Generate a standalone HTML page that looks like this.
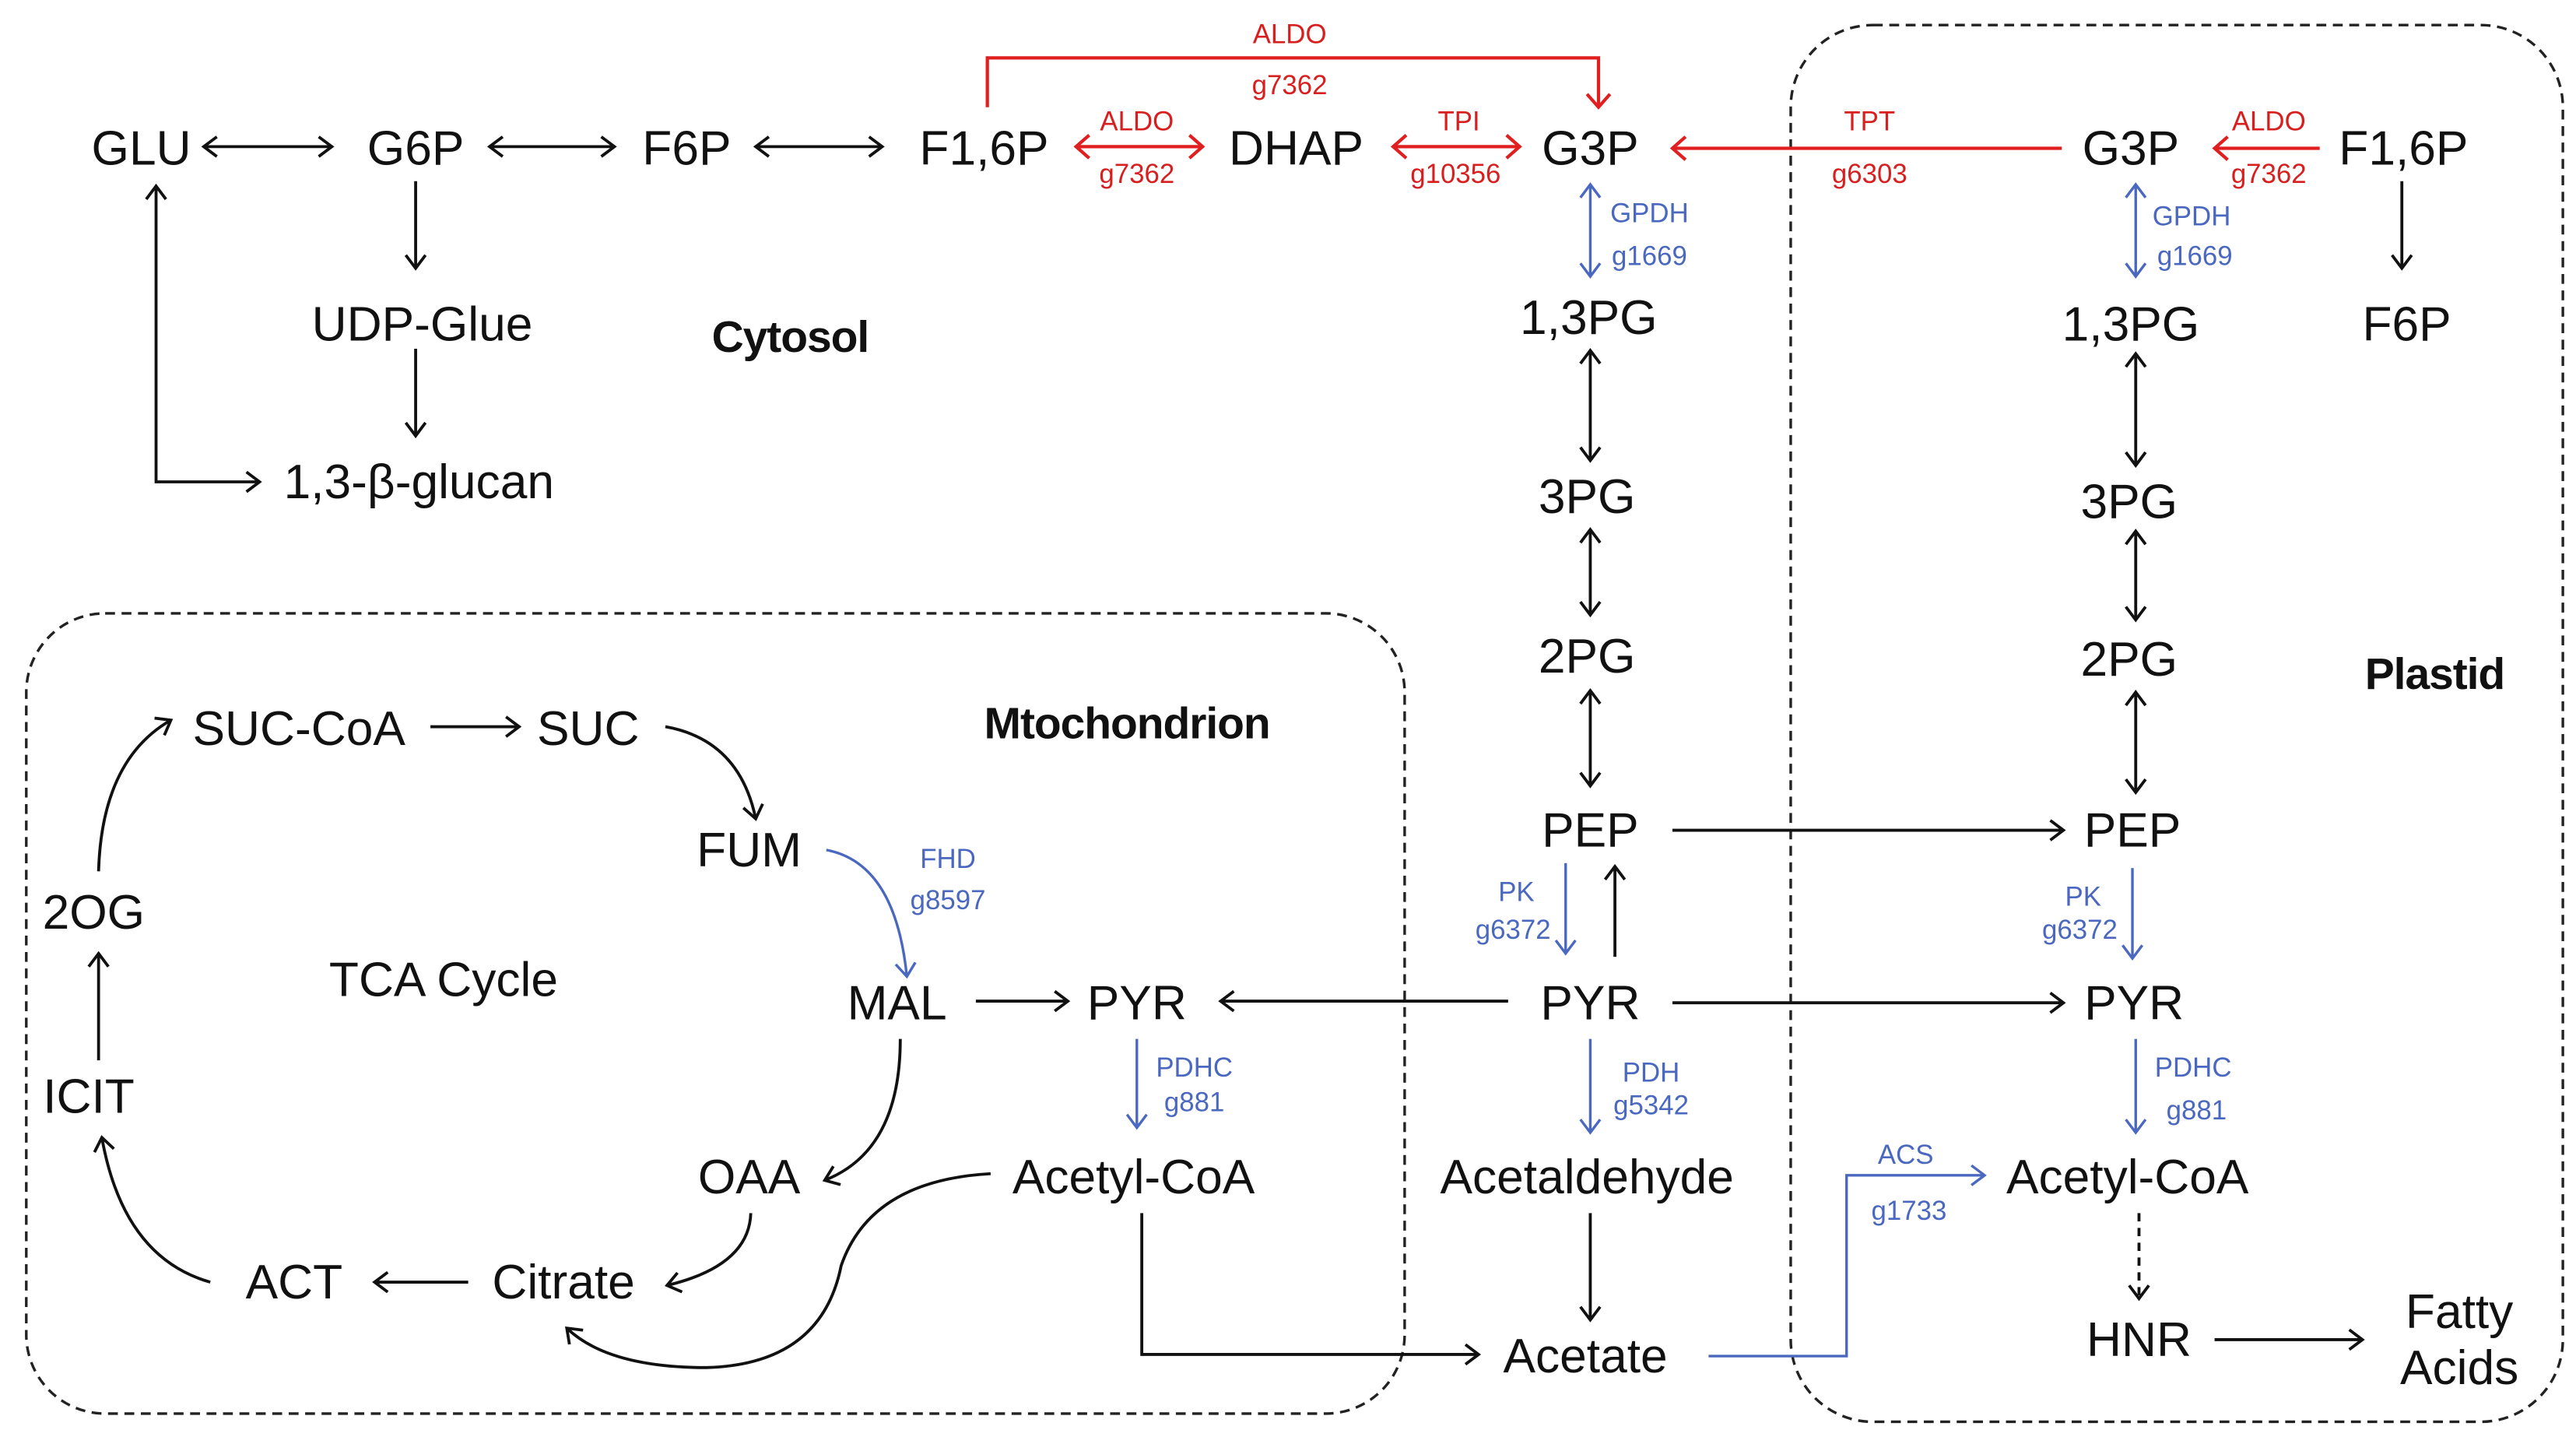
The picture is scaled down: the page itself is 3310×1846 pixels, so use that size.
<!DOCTYPE html>
<html><head><meta charset="utf-8"><style>
html,body{margin:0;padding:0;background:#fff;}
svg{display:block;}
text{font-family:"Liberation Sans",Arial,sans-serif;}
.m{font-size:29.5px;fill:#111;text-anchor:middle;}
.b{font-size:27px;font-weight:bold;fill:#111;text-anchor:middle;letter-spacing:-0.5px;}
.r{font-size:16.5px;fill:#d81f1f;text-anchor:middle;}
.u{font-size:16.5px;fill:#4a68c0;text-anchor:middle;}
.k{stroke:#111;stroke-width:1.8;fill:none;}
.rl{stroke:#e02020;stroke-width:2;fill:none;}
.bl{stroke:#4a68c0;stroke-width:1.6;fill:none;}
</style></head><body>
<svg width="3310" height="1846" viewBox="0 0 1568 874" xmlns="http://www.w3.org/2000/svg">
<defs>
<marker id="ak" markerWidth="14" markerHeight="14" refX="11" refY="7" orient="auto-start-reverse" markerUnits="userSpaceOnUse"><path d="M3,1 L11,7 L3,13" fill="none" stroke="#111" stroke-width="1.8"/></marker>
<marker id="ar" markerWidth="14" markerHeight="16" refX="11" refY="8" orient="auto-start-reverse" markerUnits="userSpaceOnUse"><path d="M3,1 L11,8 L3,15" fill="none" stroke="#e02020" stroke-width="2"/></marker>
<marker id="ab" markerWidth="14" markerHeight="14" refX="11" refY="7" orient="auto-start-reverse" markerUnits="userSpaceOnUse"><path d="M3,1 L11,7 L3,13" fill="none" stroke="#4a68c0" stroke-width="1.6"/></marker>
</defs>
<rect width="1568" height="874" fill="#fff"/>
<rect x="16" y="373" width="839" height="487" rx="48" fill="none" stroke="#222" stroke-width="1.6" stroke-dasharray="6,4"/>
<rect x="1090" y="15" width="470" height="850" rx="50" fill="none" stroke="#222" stroke-width="1.6" stroke-dasharray="6,4"/>

<text class="m" x="86" y="100">GLU</text>
<text class="m" x="253" y="100">G6P</text>
<text class="m" x="418" y="100">F6P</text>
<text class="m" x="599" y="100">F1,6P</text>
<text class="m" x="789" y="100">DHAP</text>
<text class="m" x="968" y="100">G3P</text>
<text class="m" x="1297" y="100">G3P</text>
<text class="m" x="1463" y="100">F1,6P</text>
<line class="k" x1="124" y1="89" x2="202" y2="89" marker-start="url(#ak)" marker-end="url(#ak)"/>
<line class="k" x1="298" y1="89" x2="374" y2="89" marker-start="url(#ak)" marker-end="url(#ak)"/>
<line class="k" x1="460" y1="89" x2="537" y2="89" marker-start="url(#ak)" marker-end="url(#ak)"/>
<line class="rl" x1="655" y1="89" x2="732" y2="89" marker-start="url(#ar)" marker-end="url(#ar)"/>
<text class="r" x="692" y="79">ALDO</text><text class="r" x="692" y="111">g7362</text>
<line class="rl" x1="848" y1="89" x2="925" y2="89" marker-start="url(#ar)" marker-end="url(#ar)"/>
<text class="r" x="888" y="79">TPI</text><text class="r" x="886" y="111">g10356</text>
<polyline class="rl" points="601,65 601,35 973,35 973,65" marker-end="url(#ar)"/>
<text class="r" x="785" y="26">ALDO</text><text class="r" x="785" y="57">g7362</text>
<line class="rl" x1="1255" y1="90" x2="1018" y2="90" marker-end="url(#ar)"/>
<text class="r" x="1138" y="79">TPT</text><text class="r" x="1138" y="111">g6303</text>
<line class="rl" x1="1412" y1="90" x2="1348" y2="90" marker-end="url(#ar)"/>
<text class="r" x="1381" y="79">ALDO</text><text class="r" x="1381" y="111">g7362</text>

<line class="k" x1="253" y1="110" x2="253" y2="163" marker-end="url(#ak)"/>
<text class="m" x="257" y="207">UDP-Glue</text>
<line class="k" x1="253" y1="212" x2="253" y2="265" marker-end="url(#ak)"/>
<text class="m" x="255" y="303">1,3-β-glucan</text>
<polyline class="k" points="95,113 95,293 158,293" marker-start="url(#ak)" marker-end="url(#ak)"/>
<text class="b" x="481" y="214">Cytosol</text>

<line class="bl" x1="968" y1="112" x2="968" y2="168" marker-start="url(#ab)" marker-end="url(#ab)"/>
<text class="u" x="1004" y="135">GPDH</text><text class="u" x="1004" y="161">g1669</text>
<text class="m" x="967" y="203">1,3PG</text>
<line class="k" x1="968" y1="213" x2="968" y2="280" marker-start="url(#ak)" marker-end="url(#ak)"/>
<text class="m" x="966" y="312">3PG</text>
<line class="k" x1="968" y1="322" x2="968" y2="374" marker-start="url(#ak)" marker-end="url(#ak)"/>
<text class="m" x="966" y="409">2PG</text>
<line class="k" x1="968" y1="420" x2="968" y2="478" marker-start="url(#ak)" marker-end="url(#ak)"/>
<text class="m" x="968" y="515">PEP</text>
<line class="bl" x1="953" y1="525" x2="953" y2="580" marker-end="url(#ab)"/>
<text class="u" x="923" y="548">PK</text><text class="u" x="921" y="571">g6372</text>
<line class="k" x1="983" y1="582" x2="983" y2="527" marker-end="url(#ak)"/>
<text class="m" x="968" y="620">PYR</text>
<line class="k" x1="918" y1="609" x2="743" y2="609" marker-end="url(#ak)"/>
<line class="bl" x1="968" y1="632" x2="968" y2="689" marker-end="url(#ab)"/>
<text class="u" x="1005" y="658">PDH</text><text class="u" x="1005" y="678">g5342</text>
<text class="m" x="966" y="726">Acetaldehyde</text>
<line class="k" x1="968" y1="738" x2="968" y2="803" marker-end="url(#ak)"/>
<text class="m" x="965" y="835">Acetate</text>
<line class="k" x1="1018" y1="505" x2="1256" y2="505" marker-end="url(#ak)"/>
<line class="k" x1="1018" y1="610" x2="1256" y2="610" marker-end="url(#ak)"/>

<line class="bl" x1="1300" y1="112" x2="1300" y2="168" marker-start="url(#ab)" marker-end="url(#ab)"/>
<text class="u" x="1334" y="137">GPDH</text><text class="u" x="1336" y="161">g1669</text>
<text class="m" x="1297" y="207">1,3PG</text>
<line class="k" x1="1300" y1="215" x2="1300" y2="283" marker-start="url(#ak)" marker-end="url(#ak)"/>
<text class="m" x="1296" y="315">3PG</text>
<line class="k" x1="1300" y1="323" x2="1300" y2="377" marker-start="url(#ak)" marker-end="url(#ak)"/>
<text class="m" x="1296" y="411">2PG</text>
<line class="k" x1="1300" y1="421" x2="1300" y2="482" marker-start="url(#ak)" marker-end="url(#ak)"/>
<text class="m" x="1298" y="515">PEP</text>
<line class="bl" x1="1298" y1="528" x2="1298" y2="583" marker-end="url(#ab)"/>
<text class="u" x="1268" y="551">PK</text><text class="u" x="1266" y="571">g6372</text>
<text class="m" x="1299" y="620">PYR</text>
<line class="bl" x1="1300" y1="632" x2="1300" y2="689" marker-end="url(#ab)"/>
<text class="u" x="1335" y="655">PDHC</text><text class="u" x="1337" y="681">g881</text>
<text class="m" x="1295" y="726">Acetyl-CoA</text>
<line class="k" x1="1302" y1="738" x2="1302" y2="790" stroke-dasharray="5,4" marker-end="url(#ak)"/>
<text class="m" x="1302" y="825">HNR</text>
<line class="k" x1="1348" y1="815" x2="1438" y2="815" marker-end="url(#ak)"/>
<text class="m" x="1497" y="808">Fatty</text>
<text class="m" x="1497" y="842">Acids</text>
<line class="k" x1="1462" y1="110" x2="1462" y2="163" marker-end="url(#ak)"/>
<text class="m" x="1465" y="207">F6P</text>
<text class="b" x="1482" y="419">Plastid</text>
<polyline class="bl" points="1040,825 1124,825 1124,715 1208,715" marker-end="url(#ab)"/>
<text class="u" x="1160" y="708">ACS</text><text class="u" x="1162" y="742">g1733</text>

<text class="b" x="686" y="449">Mtochondrion</text>
<text class="m" x="182" y="453">SUC-CoA</text>
<text class="m" x="358" y="453">SUC</text>
<line class="k" x1="262" y1="442" x2="316" y2="442" marker-end="url(#ak)"/>
<path class="k" d="M405,442 Q450,450 460,498" marker-end="url(#ak)"/>
<text class="m" x="456" y="527">FUM</text>
<path class="bl" d="M503,517 Q545,525 552,594" marker-end="url(#ab)"/>
<text class="u" x="577" y="528">FHD</text><text class="u" x="577" y="553">g8597</text>
<text class="m" x="546" y="620">MAL</text>
<line class="k" x1="594" y1="609" x2="650" y2="609" marker-end="url(#ak)"/>
<text class="m" x="692" y="620">PYR</text>
<line class="bl" x1="692" y1="632" x2="692" y2="686" marker-end="url(#ab)"/>
<text class="u" x="727" y="655">PDHC</text><text class="u" x="727" y="676">g881</text>
<text class="m" x="690" y="726">Acetyl-CoA</text>
<text class="m" x="270" y="606">TCA  Cycle</text>
<text class="m" x="57" y="565">2OG</text>
<text class="m" x="54" y="677">ICIT</text>
<line class="k" x1="60" y1="645" x2="60" y2="580" marker-end="url(#ak)"/>
<text class="m" x="179" y="790">ACT</text>
<text class="m" x="343" y="790">Citrate</text>
<line class="k" x1="285" y1="780" x2="228" y2="780" marker-end="url(#ak)"/>
<path class="k" d="M128,780 Q75,765 62,692" marker-end="url(#ak)"/>
<path class="k" d="M60,530 Q62,462 104,438" marker-end="url(#ak)"/>
<path class="k" d="M548,632 Q548,700 502,718" marker-end="url(#ak)"/>
<text class="m" x="456" y="726">OAA</text>
<path class="k" d="M457,738 Q456,770 406,782" marker-end="url(#ak)"/>
<path class="k" d="M603,714 Q530,718 512,770 Q500,830 430,832 Q370,832 345,808" marker-end="url(#ak)"/>
<polyline class="k" points="695,738 695,824 900,824" marker-end="url(#ak)"/>
</svg>
</body></html>
